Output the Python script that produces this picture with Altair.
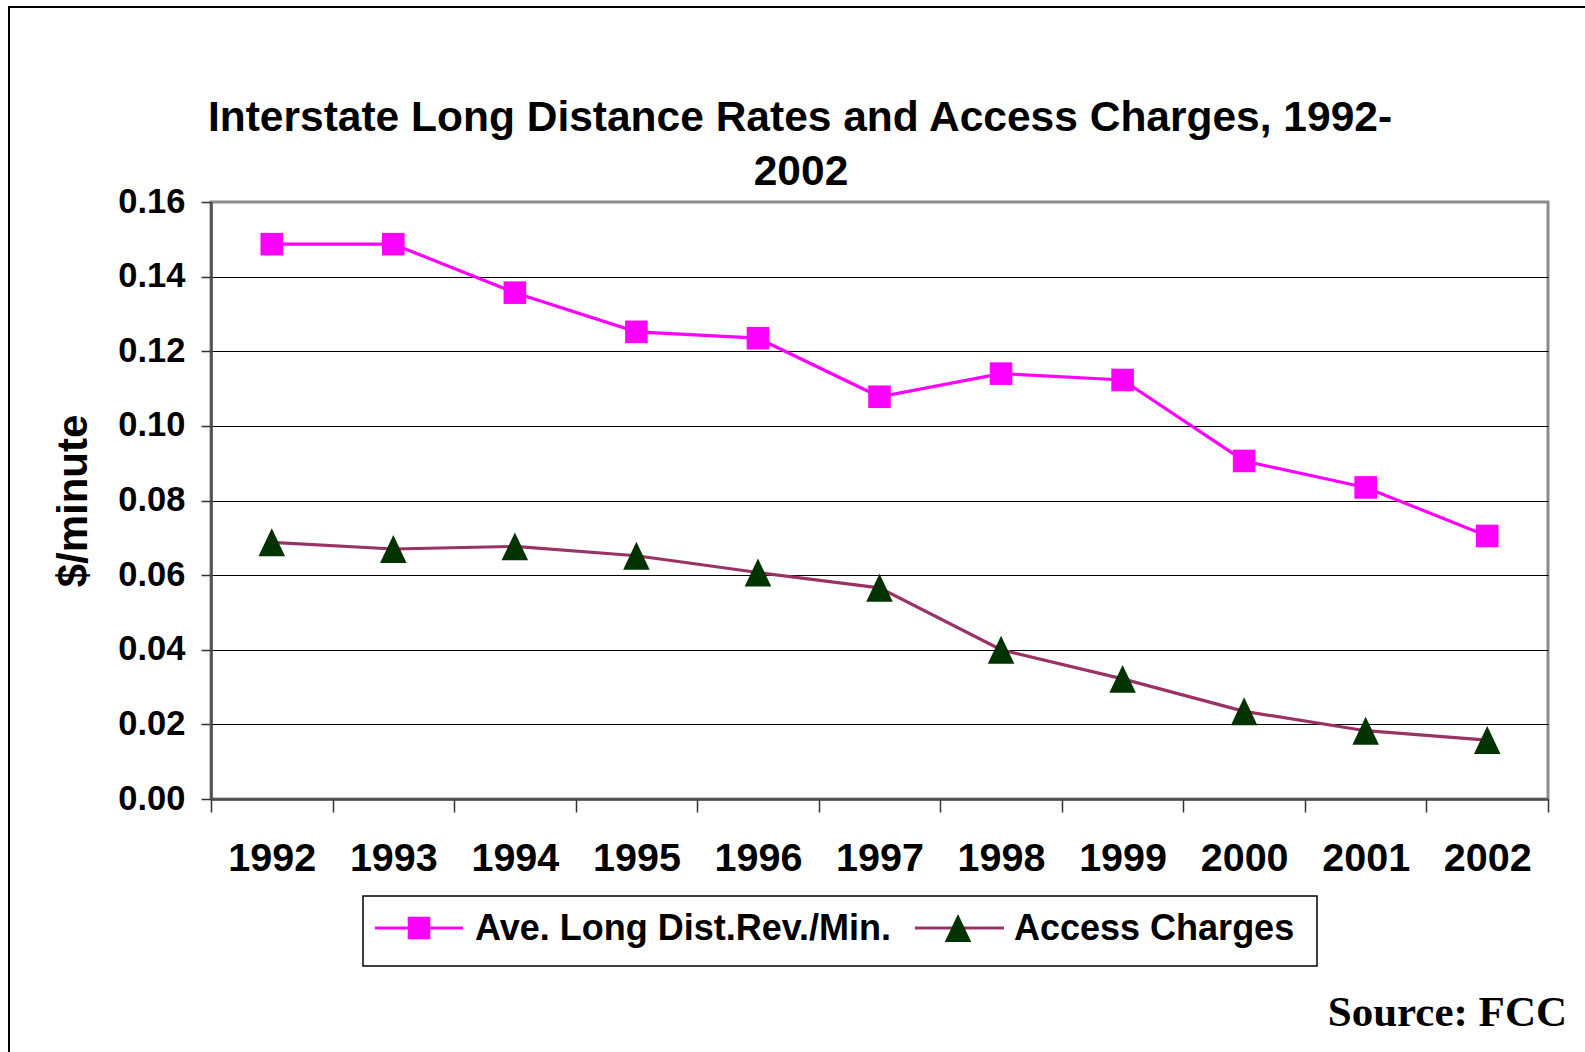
import altair as alt
import pandas as pd

# ---------------- data ----------------
YEARS = [1992, 1993, 1994, 1995, 1996, 1997, 1998, 1999, 2000, 2001, 2002]
AVE_REV = [0.1487, 0.1487, 0.1357, 0.1252, 0.1235, 0.1078, 0.1140, 0.1123, 0.0906, 0.0835, 0.0705]
ACCESS = [0.0688, 0.0670, 0.0677, 0.0652, 0.0607, 0.0566, 0.0400, 0.0322, 0.0235, 0.0183, 0.0158]
SERIES = ["Ave. Long Dist.Rev./Min.", "Access Charges"]
Y_TICKS = [0.0, 0.02, 0.04, 0.06, 0.08, 0.10, 0.12, 0.14, 0.16]
TITLE_LINES = ["Interstate Long Distance Rates and Access Charges, 1992-", "2002"]
Y_TITLE = "$/minute"
SOURCE = "Source: FCC"

# ---------------- styling ----------------
W, H = 1337, 597
PAD_L, PAD_T = 211, 202
FONT = "Liberation Sans"
MAGENTA = "#FF00FF"
MAROON = "#993366"
GREEN = "#003300"
TRI = "M0,-1L-0.95,1L0.95,1Z"
SQ_SIZE = 510
TRI_SIZE = 780

df = pd.DataFrame({
    "year": YEARS * 2,
    "value": AVE_REV + ACCESS,
    "series": [SERIES[0]] * len(YEARS) + [SERIES[1]] * len(YEARS),
})

boundaries = [y - 0.5 for y in YEARS] + [YEARS[-1] + 0.5]

x_enc = alt.X(
    "year:Q",
    scale=alt.Scale(domain=[YEARS[0] - 0.5, YEARS[-1] + 0.5], nice=False, zero=False),
    axis=alt.Axis(
        values=boundaries,
        labelExpr="datum.value > %d ? '' : format(datum.value + 0.5, 'd')" % YEARS[-1],
        labelOffset=W / len(YEARS) / 2,
        title=None, grid=False,
        tickSize=13, tickColor="#333333", tickWidth=1.5,
        domainColor="#4d4d4d", domainWidth=2.5,
        labelFont=FONT, labelFontSize=39.5, labelFontWeight="bold", labelColor="black",
        labelBaseline="alphabetic", labelPadding=58,
        labelFlush=False, labelOverlap=False, labelBound=False,
    ),
)

y_enc = alt.Y(
    "value:Q",
    scale=alt.Scale(domain=[0, 0.16], nice=False, zero=True),
    axis=alt.Axis(
        values=Y_TICKS, format=".2f",
        title=Y_TITLE, titleFont=FONT, titleFontSize=42, titleFontWeight="bold",
        titleColor="black", titleAngle=270, titleAlign="center",
        titleBaseline="alphabetic", titleX=-125, titleY=H / 2,
        grid=True, gridColor={"condition": {"test": "datum.value >= 0.159", "value": "#8c8c8c"}, "value": "#000000"},
        gridWidth=1,
        tickSize=10, tickColor="#333333", tickWidth=1.5,
        domainColor="#4d4d4d", domainWidth=2.5,
        labelFont=FONT, labelFontSize=34.5, labelFontWeight="bold", labelColor="black",
        labelPadding=16, labelOverlap=False, labelFlush=False,
    ),
)

color_scale = alt.Scale(domain=SERIES, range=[MAGENTA, MAROON])
fill_scale = alt.Scale(domain=SERIES, range=[MAGENTA, GREEN])
shape_scale = alt.Scale(domain=SERIES, range=["square", TRI])
size_scale = alt.Scale(domain=SERIES, range=[SQ_SIZE, TRI_SIZE])

base = alt.Chart(df)

lines = base.mark_line(strokeWidth=3.2).encode(
    x=x_enc, y=y_enc,
    color=alt.Color("series:N", scale=color_scale, legend=None),
    detail="series:N",
)

points = base.mark_point(filled=True, opacity=1, strokeWidth=0).encode(
    x="year:Q", y="value:Q",
    fill=alt.Fill("series:N", scale=fill_scale, legend=None),
    shape=alt.Shape("series:N", scale=shape_scale, legend=None),
    size=alt.Size("series:N", scale=size_scale, legend=None),
)


def one(d):
    return alt.Chart(alt.Data(values=[d]))


# outer frame
frame = one({"k": 1}).mark_rect(fillOpacity=0, stroke="black", strokeWidth=2).encode(
    x=alt.value(9 - PAD_L), y=alt.value(7 - PAD_T),
    x2=alt.value(W + 200), y2=alt.value(H + 400),
)

# title
title1 = one({"t": TITLE_LINES[0]}).mark_text(
    font=FONT, fontSize=42.5, fontWeight="bold", align="center", baseline="alphabetic", color="black"
).encode(text="t:N", x=alt.value(800 - PAD_L), y=alt.value(131 - PAD_T))
title2 = one({"t": TITLE_LINES[1]}).mark_text(
    font=FONT, fontSize=42.5, fontWeight="bold", align="center", baseline="alphabetic", color="black"
).encode(text="t:N", x=alt.value(801 - PAD_L), y=alt.value(185 - PAD_T))

# source
source = one({"t": SOURCE}).mark_text(
    font="Liberation Serif", fontSize=43, fontWeight="bold", align="right", baseline="alphabetic", color="black"
).encode(text="t:N", x=alt.value(1567 - PAD_L), y=alt.value(1026 - PAD_T))

# legend
LEG_Y = 928 - PAD_T
leg_box = one({"k": 1}).mark_rect(fillOpacity=0, stroke="black", strokeWidth=1.5).encode(
    x=alt.value(363 - PAD_L), x2=alt.value(1317 - PAD_L),
    y=alt.value(896 - PAD_T), y2=alt.value(966 - PAD_T),
)
leg_line1 = one({"k": 1}).mark_rule(color=MAGENTA, strokeWidth=3.2).encode(
    x=alt.value(375 - PAD_L), x2=alt.value(463 - PAD_L), y=alt.value(LEG_Y))
leg_pt1 = one({"k": 1}).mark_point(filled=True, opacity=1, shape="square", size=SQ_SIZE, fill=MAGENTA, strokeWidth=0).encode(
    x=alt.value(419 - PAD_L), y=alt.value(LEG_Y))
leg_txt1 = one({"t": SERIES[0]}).mark_text(
    font=FONT, fontSize=36, fontWeight="bold", align="left", baseline="alphabetic", color="black"
).encode(text="t:N", x=alt.value(475 - PAD_L), y=alt.value(940 - PAD_T))
leg_line2 = one({"k": 1}).mark_rule(color=MAROON, strokeWidth=3.2).encode(
    x=alt.value(915 - PAD_L), x2=alt.value(1004 - PAD_L), y=alt.value(LEG_Y))
leg_pt2 = one({"k": 1}).mark_point(filled=True, opacity=1, shape=TRI, size=TRI_SIZE, fill=GREEN, strokeWidth=0).encode(
    x=alt.value(958 - PAD_L), y=alt.value(LEG_Y))
leg_txt2 = one({"t": SERIES[1]}).mark_text(
    font=FONT, fontSize=36, fontWeight="bold", align="left", baseline="alphabetic", color="black"
).encode(text="t:N", x=alt.value(1014 - PAD_L), y=alt.value(940 - PAD_T))

chart = alt.layer(
    frame, lines, points, title1, title2, source,
    leg_box, leg_line1, leg_pt1, leg_txt1, leg_line2, leg_pt2, leg_txt2,
).resolve_scale(
    color="independent", fill="independent", shape="independent", size="independent"
).properties(
    width=W, height=H,
    autosize=alt.AutoSizeParams(type="none"),
    padding={"left": PAD_L, "top": PAD_T, "right": 1585 - PAD_L - W, "bottom": 1052 - PAD_T - H},
    background="white",
).configure_view(
    stroke="#8c8c8c", strokeWidth=3,
)

chart.save("out.html", embed_options={"renderer": "svg", "actions": False})
